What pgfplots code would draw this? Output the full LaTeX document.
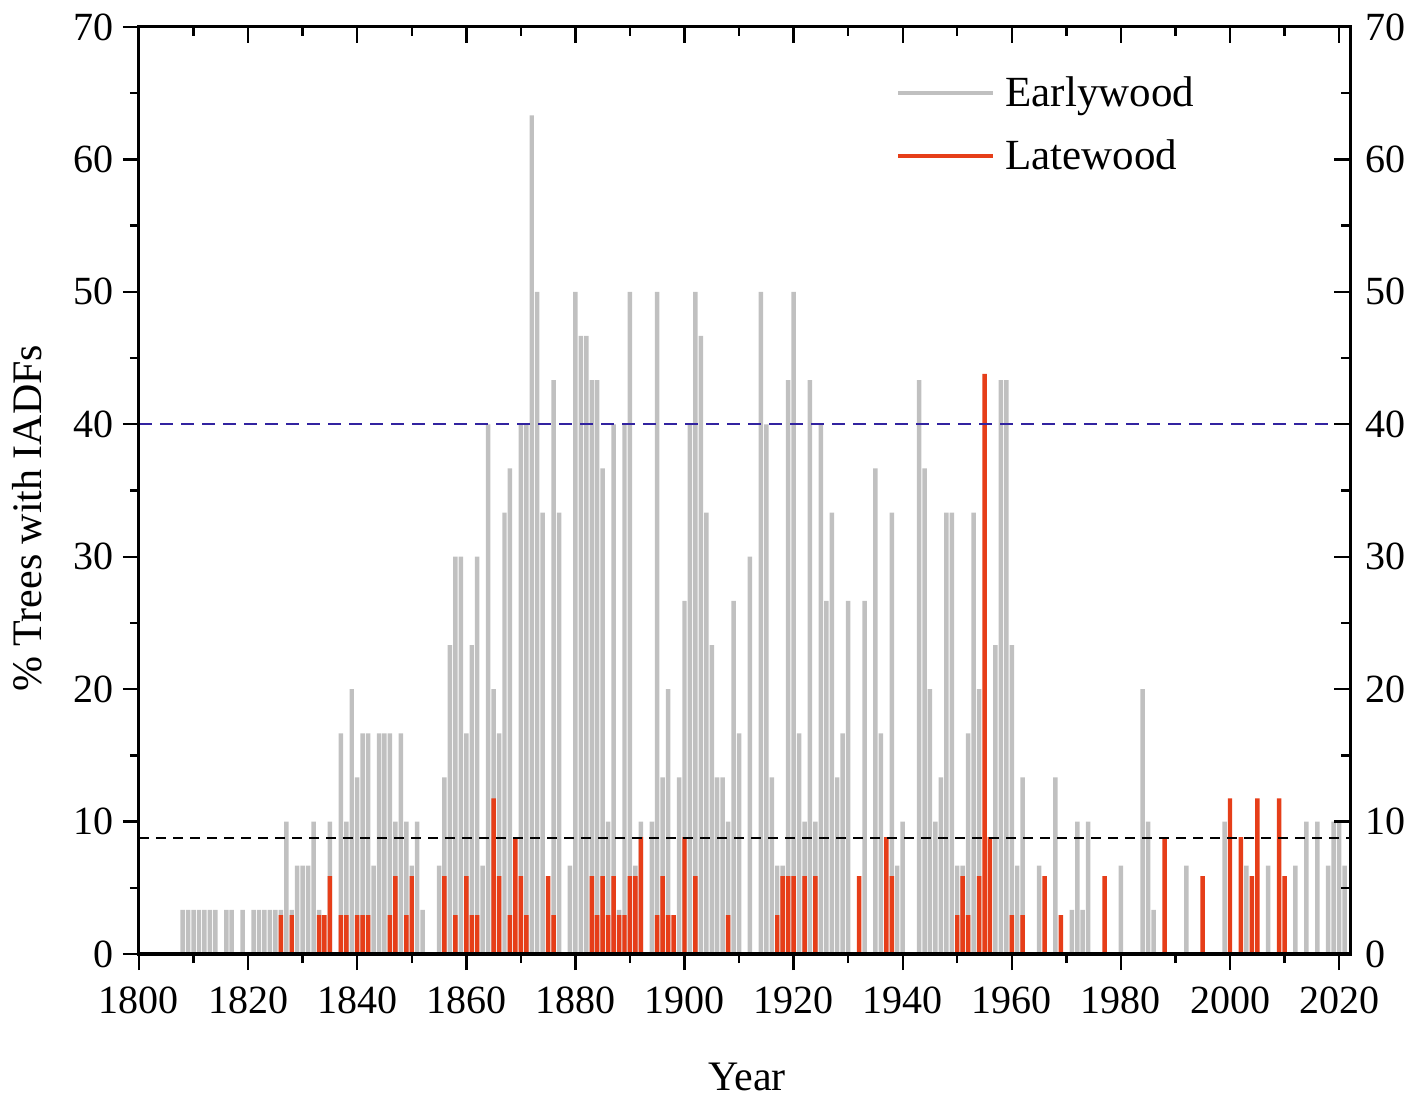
\documentclass[border=0pt]{standalone}
\usepackage{fontspec}
\setmainfont{Liberation Serif}
\usepackage{pgfplots}
\usepackage{pgfplotstable}
\pgfplotsset{compat=1.18}
\usetikzlibrary{calc}
\definecolor{egray}{RGB}{192,192,192}
\definecolor{lred}{RGB}{230,62,25}
\definecolor{dblue}{RGB}{50,35,160}

\pgfplotstableread{
year val
1808 3.333
1809 3.333
1810 3.333
1811 3.333
1812 3.333
1813 3.333
1814 3.333
1816 3.333
1817 3.333
1819 3.333
1821 3.333
1822 3.333
1823 3.333
1824 3.333
1825 3.333
1826 3.333
1827 10
1828 3.333
1829 6.667
1830 6.667
1831 6.667
1832 10
1833 3.333
1835 10
1837 16.667
1838 10
1839 20
1840 13.333
1841 16.667
1842 16.667
1843 6.667
1844 16.667
1845 16.667
1846 16.667
1847 10
1848 16.667
1849 10
1850 6.667
1851 10
1852 3.333
1855 6.667
1856 13.333
1857 23.333
1858 30
1859 30
1860 16.667
1861 23.333
1862 30
1863 6.667
1864 40
1865 20
1866 16.667
1867 33.333
1868 36.667
1870 40
1871 40
1872 63.333
1873 50
1874 33.333
1876 43.333
1877 33.333
1879 6.667
1880 50
1881 46.667
1882 46.667
1883 43.333
1884 43.333
1885 36.667
1886 10
1887 40
1888 3.333
1889 40
1890 50
1891 6.667
1892 10
1894 10
1895 50
1896 13.333
1897 20
1899 13.333
1900 26.667
1901 40
1902 50
1903 46.667
1904 33.333
1905 23.333
1906 13.333
1907 13.333
1908 10
1909 26.667
1910 16.667
1912 30
1914 50
1915 40
1916 13.333
1917 6.667
1918 6.667
1919 43.333
1920 50
1921 16.667
1922 10
1923 43.333
1924 10
1925 40
1926 26.667
1927 33.333
1928 13.333
1929 16.667
1930 26.667
1933 26.667
1935 36.667
1936 16.667
1938 33.333
1939 6.667
1940 10
1943 43.333
1944 36.667
1945 20
1946 10
1947 13.333
1948 33.333
1949 33.333
1950 6.667
1951 6.667
1952 16.667
1953 33.333
1954 20
1957 23.333
1958 43.333
1959 43.333
1960 23.333
1961 6.667
1962 13.333
1965 6.667
1968 13.333
1971 3.333
1972 10
1973 3.333
1974 10
1980 6.667
1984 20
1985 10
1986 3.333
1992 6.667
1999 10
2003 6.667
2007 6.667
2012 6.667
2014 10
2016 10
2018 6.667
2019 10
2020 10
2021 6.667
}\early

\pgfplotstableread{
year val
1826 2.94
1828 2.94
1833 2.94
1834 2.94
1835 5.88
1837 2.94
1838 2.94
1840 2.94
1841 2.94
1842 2.94
1846 2.94
1847 5.88
1849 2.94
1850 5.88
1856 5.88
1858 2.94
1860 5.88
1861 2.94
1862 2.94
1865 11.76
1866 5.88
1868 2.94
1869 8.82
1870 5.88
1871 2.94
1875 5.88
1876 2.94
1883 5.88
1884 2.94
1885 5.88
1886 2.94
1887 5.88
1888 2.94
1889 2.94
1890 5.88
1891 5.88
1892 8.82
1895 2.94
1896 5.88
1897 2.94
1898 2.94
1900 8.82
1902 5.88
1908 2.94
1917 2.94
1918 5.88
1919 5.88
1920 5.88
1922 5.88
1924 5.88
1932 5.88
1937 8.82
1938 5.88
1950 2.94
1951 5.88
1952 2.94
1954 5.88
1955 43.8
1956 8.82
1960 2.94
1962 2.94
1966 5.88
1969 2.94
1977 5.88
1988 8.82
1995 5.88
2000 11.76
2002 8.82
2004 5.88
2005 11.76
2009 11.76
2010 5.88
}\late

\begin{document}
\begin{tikzpicture}
\begin{axis}[
  name=main,
  scale only axis, width=605.5pt, height=463.5pt,
  xmin=1800, xmax=2022, ymin=0, ymax=70,
  axis line style={line width=1.5pt},
  every tick/.style={black, line width=1.2pt},
  major tick length=8pt, minor tick length=4.5pt,
  tick align=outside,
  xtick pos=bottom, ytick pos=left,
  xtick={1800,1820,...,2020}, minor xtick={1810,1830,...,2010},
  ytick={0,10,...,70}, minor ytick={5,15,...,65},
  tick label style={font=\fontsize{20}{23}\selectfont},
  xticklabel style={yshift=-5pt},
  yticklabel style={xshift=-1pt},
  /pgf/number format/1000 sep={},
  /pgf/number format/assume math mode=true,
  xlabel={Year},
  ylabel={\% Trees with IADFs},
  xlabel style={font=\fontsize{21}{24}\selectfont, at={(axis description cs:0.502,-0.1327)}, anchor=center},
  ylabel style={font=\fontsize{21}{24}\selectfont, at={(axis description cs:-0.0925,0.47)}, anchor=center},
  legend style={draw=none, fill=none, at={(axis description cs:0.6251,0.951)}, anchor=north west,
    font=\fontsize{21.5}{24}\selectfont, row sep=11pt, inner sep=0pt},
  legend cell align=left,
  legend image code/.code={\draw[#1] (0pt,0pt) -- (47.5pt,0pt); \path (50.5pt,0pt);},
]
\addlegendimage{egray, line width=2pt}
\addlegendentry{Earlywood}
\addlegendimage{lred, line width=2pt}
\addlegendentry{Latewood}
\addplot[ybar, bar width=0.82, bar shift=0pt, fill=egray, draw=none, forget plot] table[x=year, y=val] {\early};
\addplot[ybar, bar width=0.82, bar shift=0pt, fill=lred, draw=none, forget plot] table[x=year, y=val] {\late};
\addplot[dblue, line width=1pt, dash pattern=on 6.5pt off 4pt, forget plot] coordinates {(1800,40) (2022,40)};
\addplot[black, line width=1pt, dash pattern=on 5pt off 3.5pt, forget plot] coordinates {(1800,8.76) (2022,8.76)};
\end{axis}
\begin{axis}[
  scale only axis, width=605.5pt, height=463.5pt,
  xmin=1800, xmax=2022, ymin=0, ymax=70,
  axis line style={line width=1.5pt},
  every tick/.style={black, line width=1.2pt},
  major tick length=8pt, minor tick length=4.5pt,
  tick align=inside,
  xtick pos=top, ytick pos=right,
  xtick={1800,1820,...,2020}, minor xtick={1810,1830,...,2010},
  ytick={0,10,...,70}, minor ytick={5,15,...,65},
  xticklabels={},
  yticklabel pos=right,
  tick label style={font=\fontsize{20}{23}\selectfont},
  yticklabel style={xshift=4pt},
  /pgf/number format/assume math mode=true,
]
\end{axis}
\pgfresetboundingbox
\path[use as bounding box] ($(main.south west)+(-69.5pt,-71.5pt)$) rectangle ($(main.north east)+(34pt,13.5pt)$);
\end{tikzpicture}
\end{document}
